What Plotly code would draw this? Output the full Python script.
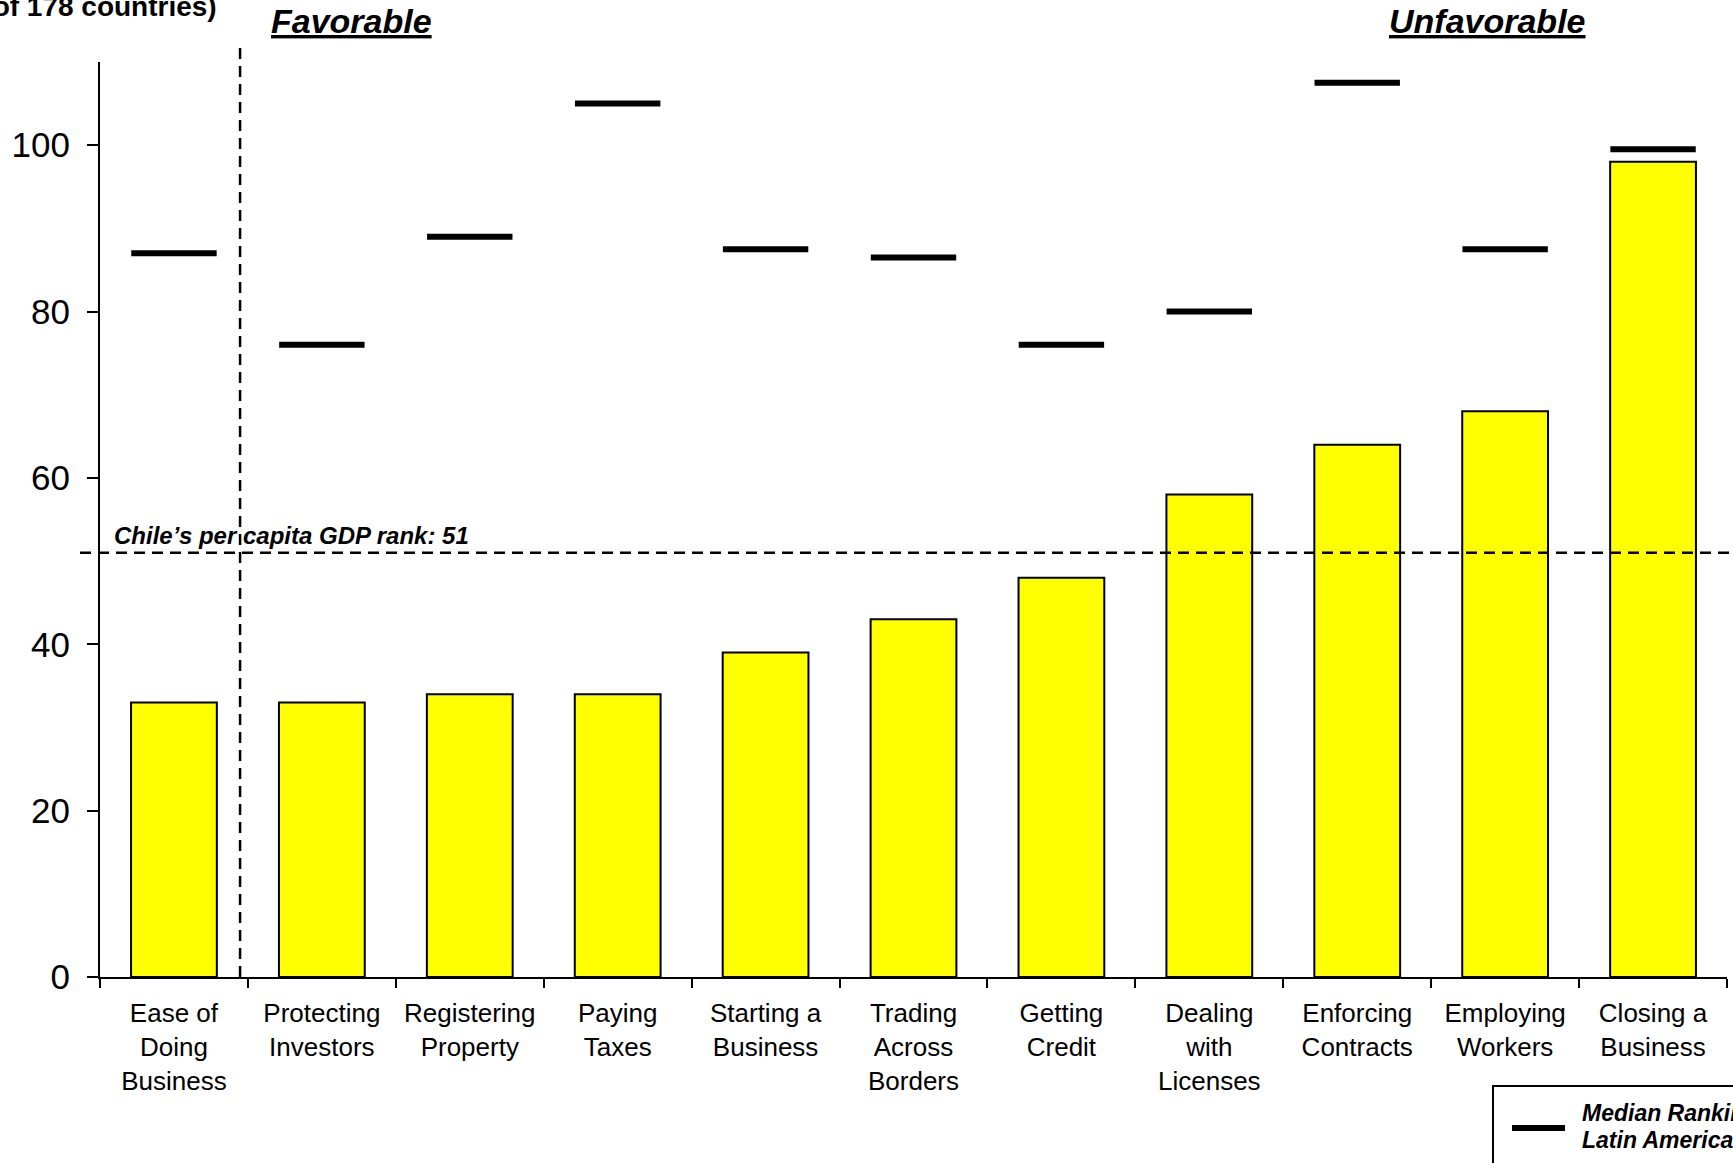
import plotly.graph_objects as go

# Doing Business indicators for Chile (rank out of 178 countries)
categories = [
    "Ease of<br>Doing<br>Business",
    "Protecting<br>Investors",
    "Registering<br>Property",
    "Paying<br>Taxes",
    "Starting a<br>Business",
    "Trading<br>Across<br>Borders",
    "Getting<br>Credit",
    "Dealing<br>with<br>Licenses",
    "Enforcing<br>Contracts",
    "Employing<br>Workers",
    "Closing a<br>Business",
]
chile_rank = [33, 33, 34, 34, 39, 43, 48, 58, 64, 68, 98]
latam_median = [87, 76, 89, 105, 87.5, 86.5, 76, 80, 107.5, 87.5, 99.5]
y_ticks = [0, 20, 40, 60, 80, 100]
gdp_rank = 51

W, H = 1733, 1163
ML, MR, MT, MB = 100, 6, 62, 186
PW, PH = W - ML - MR, H - MT - MB


def px_x(px):
    return (px - ML) / PW


def px_y(py):
    return (H - MB - py) / PH


FONT = "Liberation Sans, Arial, sans-serif"

fig = go.Figure()

fig.add_trace(go.Bar(
    x=categories,
    y=chile_rank,
    marker=dict(color="#FFFF00", line=dict(color="black", width=2)),
    showlegend=False,
))

fig.add_trace(go.Scatter(
    x=categories,
    y=latam_median,
    mode="markers",
    marker=dict(symbol="line-ew", size=61,
                color="black", line=dict(color="black", width=6)),
    showlegend=False,
))

shapes = [
    # divider between the overall rank and the individual indicators
    dict(type="line", xref="x", yref="paper", x0=0.447, x1=0.447,
         y0=0, y1=px_y(47), line=dict(color="black", width=2.5, dash="11px,7px")),
    # per capita GDP rank reference line
    dict(type="line", xref="paper", yref="y", x0=px_x(80), x1=1.01,
         y0=gdp_rank, y1=gdp_rank, line=dict(color="black", width=2.5, dash="11px,7px")),
    # legend box
    dict(type="rect", xref="paper", yref="paper", x0=px_x(1493), x1=px_x(1760),
         y0=px_y(1086), y1=px_y(1200), line=dict(color="black", width=2),
         fillcolor="white"),
    dict(type="line", xref="paper", yref="paper", x0=px_x(1512), x1=px_x(1565),
         y0=px_y(1128), y1=px_y(1128), line=dict(color="black", width=6)),
]

annotations = [
    dict(text="<b><i>Chile’s per capita GDP rank: " + str(gdp_rank) + "</i></b>",
         xref="paper", yref="y", x=px_x(112), y=gdp_rank, xanchor="left",
         yanchor="bottom", yshift=2, showarrow=False,
         font=dict(family=FONT, size=24, color="black")),
    dict(text="<b><i><u>Favorable</u></i></b>", xref="paper", yref="paper",
         x=px_x(351), y=px_y(21), xanchor="center", yanchor="middle",
         showarrow=False, font=dict(family=FONT, size=34, color="black")),
    dict(text="<b><i><u>Unfavorable</u></i></b>", xref="paper", yref="paper",
         x=px_x(1487), y=px_y(21), xanchor="center", yanchor="middle",
         showarrow=False, font=dict(family=FONT, size=34, color="black")),
    dict(text="<b>(out of 178 countries)</b>", xref="paper", yref="paper",
         x=px_x(219), y=px_y(6), xanchor="right", yanchor="middle",
         showarrow=False, font=dict(family=FONT, size=28, color="black")),
    dict(text="<b><i>Median Ranking in</i></b>", xref="paper", yref="paper",
         x=px_x(1580), y=px_y(1113), xanchor="left", yanchor="middle",
         showarrow=False, font=dict(family=FONT, size=23, color="black")),
    dict(text="<b><i>Latin America</i></b>", xref="paper", yref="paper",
         x=px_x(1580), y=px_y(1140), xanchor="left", yanchor="middle",
         showarrow=False, font=dict(family=FONT, size=23, color="black")),
]

fig.update_layout(
    width=W, height=H,
    margin=dict(l=ML, r=MR, t=MT, b=MB, autoexpand=False),
    paper_bgcolor="white", plot_bgcolor="white",
    bargap=0.42,
    font=dict(family=FONT, color="black"),
    shapes=shapes,
    annotations=annotations,
    showlegend=False,
)

fig.update_xaxes(
    range=[-0.5, len(categories) - 0.5],
    showline=True, linecolor="black", linewidth=2,
    ticks="outside", tickson="boundaries", ticklen=9, tickwidth=2, tickcolor="black",
    tickfont=dict(family=FONT, size=26, color="black"),
    ticklabelstandoff=12,
    showgrid=False, zeroline=False, tickangle=0,
)
fig.update_yaxes(
    range=[0, 110], tickvals=y_ticks,
    showline=True, linecolor="black", linewidth=2,
    ticks="outside", ticklen=11, tickwidth=2, tickcolor="black",
    tickfont=dict(family=FONT, size=35, color="black"),
    ticklabelstandoff=10,
    showgrid=False, zeroline=False,
)

fig.write_html("out.html")
